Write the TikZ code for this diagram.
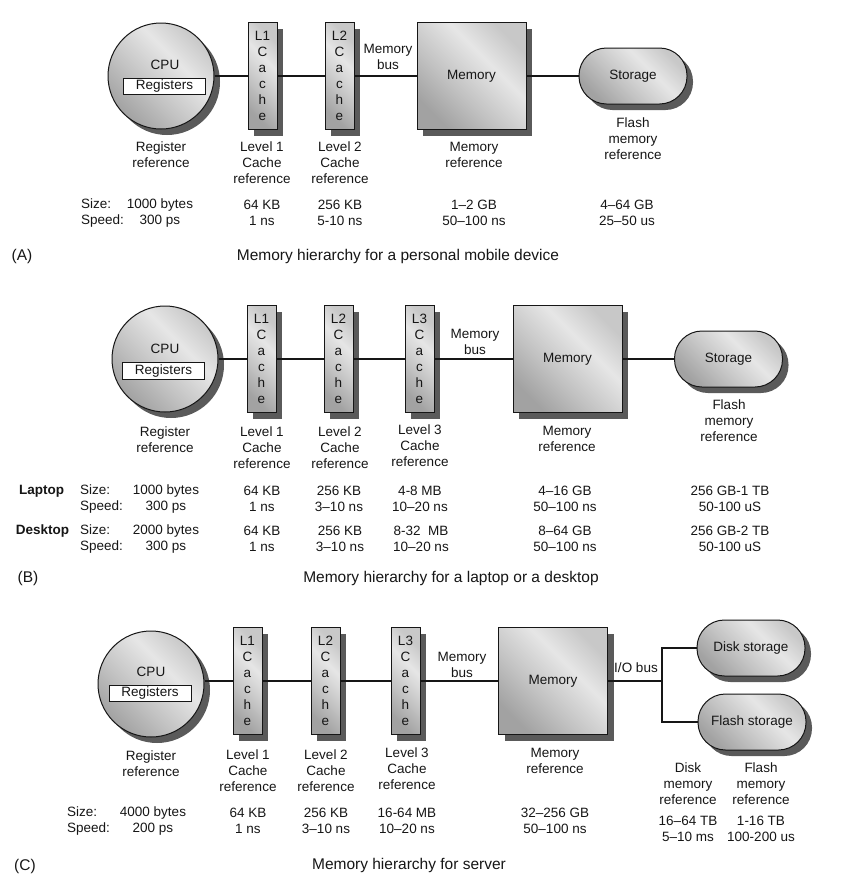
\documentclass[tikz,border=0pt]{standalone}
\usepackage{fontspec}
\setmainfont{Liberation Sans}
\usetikzlibrary{shadows}
\definecolor{sdark}{HTML}{A2A2A2}
\definecolor{smid}{HTML}{C4C4C4}
\definecolor{slight}{HTML}{E6E6E6}
\definecolor{send}{HTML}{C8C8C8}
\definecolor{shad}{HTML}{5A5A5A}
\definecolor{ink}{HTML}{161616}
\pgfdeclarehorizontalshading{gdiag}{100bp}{color(0bp)=(sdark); color(25bp)=(sdark); color(42bp)=(smid); color(60bp)=(slight); color(75bp)=(send); color(100bp)=(send)}
\tikzset{
  lab/.style={font=\fontsize{13.5}{16}\selectfont, align=center, inner sep=0pt, text=ink},
  boldlab/.style={font=\fontsize{13.5}{16}\selectfont\bfseries, inner sep=0pt, text=ink},
  captxt/.style={font=\fontsize{15.5}{18}\selectfont, inner sep=0pt, text=ink},
  gshade/.style={shade, shading=gdiag, shading angle=45},
  shd/.style={drop shadow={shadow xshift=6pt, shadow yshift=-6pt, fill=shad, opacity=1}},
  cpu/.style={circle, draw=ink, line width=1pt, minimum size=106pt, inner sep=0pt, gshade, shd},
  reg/.style={rectangle, draw=ink, fill=white, line width=1pt, minimum width=82pt, minimum height=16.5pt, inner sep=0pt, lab},
  cache/.style={rectangle, draw=ink, line width=1pt, minimum width=29pt, minimum height=107pt, inner sep=0pt, gshade, shd, lab},
  mem/.style={rectangle, draw=ink, line width=1pt, minimum width=109pt, minimum height=107pt, inner sep=0pt, gshade, shd, lab},
  stor/.style={rectangle, rounded corners=27.5pt, draw=ink, line width=1pt, minimum width=108pt, minimum height=56pt, inner sep=0pt, gshade, shd, lab},
  wire/.style={draw=ink, line width=1.4pt},
}
\begin{document}
\begin{tikzpicture}[x=1pt,y=-1pt]
\fill[white] (0,0) rectangle (841,876);
\useasboundingbox (0,0) rectangle (841,876);

% ================= (A) =================
\node[cpu] (cpuA) at (161,76) {};
\node[lab] (cpuAt) at (165,65) {CPU};
\node[reg] (regA) at (164.5,86.5) {Registers};
\node[cache] (l1A) at (262.5,76) {L1\\C\\a\\c\\h\\e};
\node[cache] (l2A) at (339.5,76) {L2\\C\\a\\c\\h\\e};
\node[mem] (memA) at (471.5,76) {Memory};
\node[stor] (stA) at (633,76) {Storage};
\node[lab] (busA) at (388,57) {Memory\\bus};
\draw[wire] (cpuA) -- (l1A);
\draw[wire] (l1A) -- (l2A);
\draw[wire] (l2A) -- (memA);
\draw[wire] (memA) -- (stA);

\node[lab] (rrA) at (161,155) {Register\\reference};
\node[lab] (c1A) at (262,163) {Level 1\\Cache\\reference};
\node[lab] (c2A) at (340,163) {Level 2\\Cache\\reference};
\node[lab] (mrA) at (474,155) {Memory\\reference};
\node[lab] (frA) at (633,139) {Flash\\memory\\reference};

\node[lab, align=left, anchor=west] (szA) at (81,213) {Size:\\Speed:};
\node[lab] (v1A) at (160,213) {1000 bytes\\300 ps};
\node[lab] (v2A) at (262,213) {64 KB\\1 ns};
\node[lab] (v3A) at (340,213) {256 KB\\5-10 ns};
\node[lab] (v4A) at (474,213) {1–2 GB\\50–100 ns};
\node[lab] (v5A) at (627,213) {4–64 GB\\25–50 us};

\node[captxt] (tagA) at (22,256) {(A)};
\node[captxt] (capA) at (398,256) {Memory hierarchy for a personal mobile device};

% ================= (B) =================
\node[cpu] (cpuB) at (165,359) {};
\node[lab] (cpuBt) at (165,349) {CPU};
\node[reg] (regB) at (163.5,371) {Registers};
\node[cache] (l1B) at (261.5,359) {L1\\C\\a\\c\\h\\e};
\node[cache] (l2B) at (338.5,359) {L2\\C\\a\\c\\h\\e};
\node[cache] (l3B) at (419.5,359) {L3\\C\\a\\c\\h\\e};
\node[mem] (memB) at (567.5,359) {Memory};
\node[stor] (stB) at (728.5,359) {Storage};
\node[lab] (busB) at (475,341.5) {Memory\\bus};
\draw[wire] (cpuB) -- (l1B);
\draw[wire] (l1B) -- (l2B);
\draw[wire] (l2B) -- (l3B);
\draw[wire] (l3B) -- (memB);
\draw[wire] (memB) -- (stB);

\node[lab] (rrB) at (165,440) {Register\\reference};
\node[lab] (c1B) at (262,448) {Level 1\\Cache\\reference};
\node[lab] (c2B) at (340,448) {Level 2\\Cache\\reference};
\node[lab] (c3B) at (420,446) {Level 3\\Cache\\reference};
\node[lab] (mrB) at (567,438.5) {Memory\\reference};
\node[lab] (frB) at (729,421) {Flash\\memory\\reference};

\node[boldlab] (lapB) at (41.5,491) {Laptop};
\node[boldlab] (deskB) at (42.5,531) {Desktop};
\node[lab, align=left, anchor=west] (szB1) at (80,499) {Size:\\Speed:};
\node[lab, align=left, anchor=west] (szB2) at (80,539) {Size:\\Speed:};
\node[lab] (v1B) at (166,499) {1000 bytes\\300 ps};
\node[lab] (v2B) at (262,499) {64 KB\\1 ns};
\node[lab] (v3B) at (339,499) {256 KB\\3–10 ns};
\node[lab] (v4B) at (420,499) {4-8 MB\\10–20 ns};
\node[lab] (v5B) at (565,499) {4–16 GB\\50–100 ns};
\node[lab] (v6B) at (730,499) {256 GB-1 TB\\50-100 uS};
\node[lab] (w1B) at (166,539) {2000 bytes\\300 ps};
\node[lab] (w2B) at (262,539) {64 KB\\1 ns};
\node[lab] (w3B) at (340,539) {256 KB\\3–10 ns};
\node[lab] (w4B) at (421,539) {8-32~~MB\\10–20 ns};
\node[lab] (w5B) at (565,539) {8–64 GB\\50–100 ns};
\node[lab] (w6B) at (730,539) {256 GB-2 TB\\50-100 uS};

\node[captxt] (tagB) at (28,578) {(B)};
\node[captxt] (capB) at (451,578) {Memory hierarchy for a laptop or a desktop};

% ================= (C) =================
\node[cpu] (cpuC) at (151,684) {};
\node[lab] (cpuCt) at (151,672) {CPU};
\node[reg] (regC) at (150,693.5) {Registers};
\node[cache] (l1C) at (247.5,681) {L1\\C\\a\\c\\h\\e};
\node[cache] (l2C) at (325.5,681) {L2\\C\\a\\c\\h\\e};
\node[cache] (l3C) at (405.5,681) {L3\\C\\a\\c\\h\\e};
\node[mem] (memC) at (553,681) {Memory};
\node[stor] (diskC) at (751,648) {Disk storage};
\node[stor] (flashC) at (752,722) {Flash storage};
\node[lab] (busC) at (462,665) {Memory\\bus};
\node[lab] (ioC) at (636,668) {I/O bus};
\coordinate (jC) at (662,681);
\draw[wire] (cpuC.east |- l1C.west) -- (l1C.west);
\draw[wire] (l1C) -- (l2C);
\draw[wire] (l2C) -- (l3C);
\draw[wire] (l3C) -- (memC);
\draw[wire] (memC) -- (jC);
\draw[wire] (diskC.west) -| (jC) |- (flashC.west);

\node[lab] (rrC) at (151,763.5) {Register\\reference};
\node[lab] (c1C) at (248,771) {Level 1\\Cache\\reference};
\node[lab] (c2C) at (326,771) {Level 2\\Cache\\reference};
\node[lab] (c3C) at (407,768.5) {Level 3\\Cache\\reference};
\node[lab] (mrC) at (555,761) {Memory\\reference};
\node[lab] (drC) at (688,784) {Disk\\memory\\reference};
\node[lab] (frC) at (761,784) {Flash\\memory\\reference};

\node[lab, align=left, anchor=west] (szC) at (67,821) {Size:\\Speed:};
\node[lab] (v1C) at (153,821) {4000 bytes\\200 ps};
\node[lab] (v2C) at (248,821) {64 KB\\1 ns};
\node[lab] (v3C) at (326,821) {256 KB\\3–10 ns};
\node[lab] (v4C) at (407,821) {16-64 MB\\10–20 ns};
\node[lab] (v5C) at (555,821) {32–256 GB\\50–100 ns};
\node[lab] (v6C) at (688,829) {16–64 TB\\5–10 ms};
\node[lab] (v7C) at (761,829) {1-16 TB\\100-200 us};

\node[captxt] (tagC) at (25,866) {(C)};
\node[captxt] (capC) at (409,865) {Memory hierarchy for server};
\end{tikzpicture}
\end{document}
